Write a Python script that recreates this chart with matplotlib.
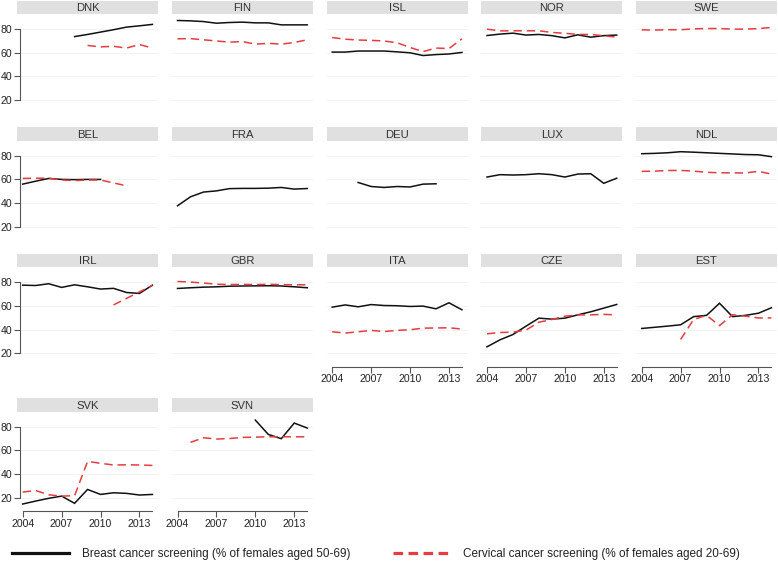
import numpy as np
import matplotlib
matplotlib.use("Agg")
import matplotlib.pyplot as plt
from matplotlib.lines import Line2D

plt.rcParams['font.family'] = ['Liberation Sans', 'DejaVu Sans']

nan = np.nan
years = [2004, 2005, 2006, 2007, 2008, 2009, 2010, 2011, 2012, 2013, 2014]
countries = ["DNK", "FIN", "ISL", "NOR", "SWE",
             "BEL", "FRA", "DEU", "LUX", "NDL",
             "IRL", "GBR", "ITA", "CZE", "EST",
             "SVK", "SVN"]
xticks = [2004, 2007, 2010, 2013]
yticks = [20, 40, 60, 80]
legend_labels = ["Breast cancer screening (% of females aged 50-69)",
                 "Cervical cancer screening (% of females aged 20-69)"]

DNK_breast = [nan, nan, nan, nan, 73.7, 75.5, 77.5, 79.5, 81.7, 82.8, 84.0]
DNK_cerv = [nan, nan, nan, nan, nan, 66.2, 65.0, 65.5, 64.0, 67.0, 64.0]
FIN_breast = [87.3, 87.0, 86.4, 85.0, 85.6, 85.9, 85.3, 85.3, 83.6, 83.6, 83.6]
FIN_cerv = [71.8, 72.0, 71.0, 70.0, 69.0, 69.5, 67.3, 68.0, 67.3, 68.7, 71.0]
ISL_breast = [60.6, 60.6, 61.5, 61.5, 61.5, 60.8, 60.0, 57.7, 58.5, 59.0, 60.3]
ISL_cerv = [72.9, 71.5, 70.8, 70.5, 70.0, 68.5, 64.5, 61.0, 64.0, 63.6, 71.8]
NOR_breast = [74.6, 75.8, 76.6, 75.0, 75.5, 74.5, 72.6, 75.2, 73.2, 74.5, 75.0]
NOR_cerv = [80.0, 78.5, 78.6, 78.6, 78.6, 77.2, 76.5, 75.5, 75.5, 74.4, 73.2]
SWE_breast = [nan] * 11
SWE_cerv = [79.4, 79.2, 79.5, 79.5, 80.2, 80.5, 80.5, 80.0, 80.0, 80.5, 81.4]
BEL_breast = [56.0, 58.5, 60.8, 60.0, 59.8, 60.0, 60.0, nan, nan, nan, nan]
BEL_cerv = [60.8, 61.0, 61.0, 59.5, 59.0, 59.5, 59.5, 57.0, 54.6, nan, nan]
FRA_breast = [37.7, 45.3, 49.3, 50.3, 52.2, 52.4, 52.4, 52.6, 53.2, 51.8, 52.3]
FRA_cerv = [nan] * 11
DEU_breast = [nan, nan, 57.4, 54.0, 53.2, 54.0, 53.6, 56.0, 56.3, nan, nan]
DEU_cerv = [nan] * 11
LUX_breast = [62.0, 64.0, 63.7, 64.0, 64.8, 64.0, 62.0, 64.5, 64.8, 56.7, 61.0]
LUX_cerv = [nan] * 11
NDL_breast = [81.7, 82.0, 82.5, 83.4, 83.0, 82.5, 82.0, 81.5, 81.0, 80.8, 79.2]
NDL_cerv = [66.8, 67.0, 67.5, 67.6, 67.0, 66.0, 65.6, 65.5, 65.5, 66.8, 64.5]
IRL_breast = [77.7, 77.4, 78.9, 75.8, 78.0, 76.3, 74.4, 75.0, 71.5, 70.7, 77.7]
IRL_cerv = [nan, nan, nan, nan, nan, nan, nan, 61.0, 66.5, 72.0, 77.5]
GBR_breast = [74.9, 75.5, 76.0, 76.3, 76.8, 77.0, 77.1, 77.2, 77.0, 76.3, 75.5]
GBR_cerv = [80.8, 80.3, 79.5, 78.5, 78.2, 78.3, 78.2, 78.4, 78.2, 78.0, 78.0]
ITA_breast = [59.1, 61.0, 59.4, 61.3, 60.5, 60.3, 59.7, 60.0, 57.7, 62.8, 56.9]
ITA_cerv = [38.3, 37.2, 38.3, 39.5, 38.5, 39.5, 40.0, 41.4, 41.5, 41.7, 40.6]
CZE_breast = [25.6, 31.5, 36.0, 43.0, 49.8, 49.0, 49.8, 52.6, 55.2, 58.3, 61.4]
CZE_cerv = [36.6, 37.7, 38.0, 39.7, 46.4, 48.7, 51.5, 52.5, 52.6, 53.0, 52.6]
EST_breast = [41.1, 42.1, 43.1, 44.2, 51.1, 52.2, 62.4, 51.1, 52.2, 54.0, 58.6]
EST_cerv = [nan, nan, nan, 31.8, 48.7, 52.2, 43.5, 52.7, 51.5, 50.0, 50.0]
SVK_breast = [14.7, 17.2, 19.5, 21.4, 15.3, 27.0, 22.8, 24.2, 23.7, 22.3, 22.8]
SVK_cerv = [24.8, 26.1, 22.5, 21.4, 21.7, 50.7, 49.1, 47.7, 47.8, 47.7, 47.3]
SVN_breast = [nan, nan, nan, nan, nan, nan, 85.6, 73.5, 69.9, 83.1, 78.9]
SVN_cerv = [nan, 66.8, 70.7, 69.6, 70.0, 71.0, 71.2, 71.5, 71.5, 71.5, 71.5]

g = globals()
breast = {c: g[c + "_breast"] for c in countries}
cerv = {c: g[c + "_cerv"] for c in countries}

W, H = 778, 561
fig = plt.figure(figsize=(W / 100, H / 100), dpi=100)

BLACK = "#111111"
RED = "#e63c40"
col_left = [17, 171.8, 326.5, 481.3, 636]
panel_w = 141
row_top = [0.7, 127.3, 254, 398.3]
strip_h = 13.4
ax_h = 99.3
xlim = (2003.56, 2014.43)
ylim = (8.8, 92.7)

ncols = 5
nrows_by_col = {}
for i, c in enumerate(countries):
    nrows_by_col[i % ncols] = i // ncols

for i, c in enumerate(countries):
    r, k = divmod(i, ncols)
    x0 = col_left[k]
    st = row_top[r]
    # strip
    sax = fig.add_axes([x0 / W, 1 - (st + strip_h) / H, panel_w / W, strip_h / H])
    sax.set_facecolor("#e0e0e0")
    sax.set_xticks([]); sax.set_yticks([])
    for s in sax.spines.values():
        s.set_visible(False)
    sax.text(0.5, 0.45, c, ha="center", va="center", fontsize=8.1, color="#333333",
             transform=sax.transAxes)
    # plot
    top = st + strip_h
    ax = fig.add_axes([x0 / W, 1 - (top + ax_h) / H, panel_w / W, ax_h / H])
    ax.set_xlim(*xlim); ax.set_ylim(*ylim)
    for yv in yticks:
        ax.axhline(yv, color="#f1f1f1", lw=0.6, zorder=0)
    ax.plot(years, breast[c], color=BLACK, lw=1.1, solid_joinstyle="miter")
    ax.plot(years, cerv[c], color=RED, lw=1.1, dashes=(5.5, 3.2))
    for s in ["top", "right"]:
        ax.spines[s].set_visible(False)
    # y axis only first column
    if k == 0:
        ax.spines["left"].set_bounds(20, 80)
        ax.spines["left"].set_position(("outward", -2))
        ax.spines["left"].set_color("#555555")
        ax.spines["left"].set_linewidth(0.8)
        ax.set_yticks(yticks)
        ax.tick_params(axis="y", length=4, width=0.8, color="#555555", pad=1.5,
                       labelsize=7.6, labelcolor="#222222")
    else:
        ax.spines["left"].set_visible(False)
        ax.set_yticks([])
    # x axis only for bottom panel in each column
    if r == nrows_by_col[k]:
        ax.spines["bottom"].set_bounds(2004, 2014)
        ax.spines["bottom"].set_color("#555555")
        ax.spines["bottom"].set_linewidth(0.8)
        ax.set_xticks(xticks)
        ax.tick_params(axis="x", length=4, width=0.8, color="#555555", pad=1.5,
                       labelsize=7.6, labelcolor="#222222")
    else:
        ax.spines["bottom"].set_visible(False)
        ax.set_xticks([])
    ax.patch.set_visible(False)

handles = [Line2D([0], [0], color=BLACK, lw=2.3),
           Line2D([0], [0], color=RED, lw=2.3, dashes=(3.0, 1.7))]
fig.legend(handles, legend_labels, loc="center left",
           bbox_to_anchor=(12.3 / W, 1 - 554 / H), ncol=2, frameon=False,
           fontsize=8.45, handlelength=4.85, handletextpad=1.1, columnspacing=3.6,
           borderpad=0, borderaxespad=0, labelcolor="#222222")

fig.savefig("out.png", dpi=100, facecolor="white")
